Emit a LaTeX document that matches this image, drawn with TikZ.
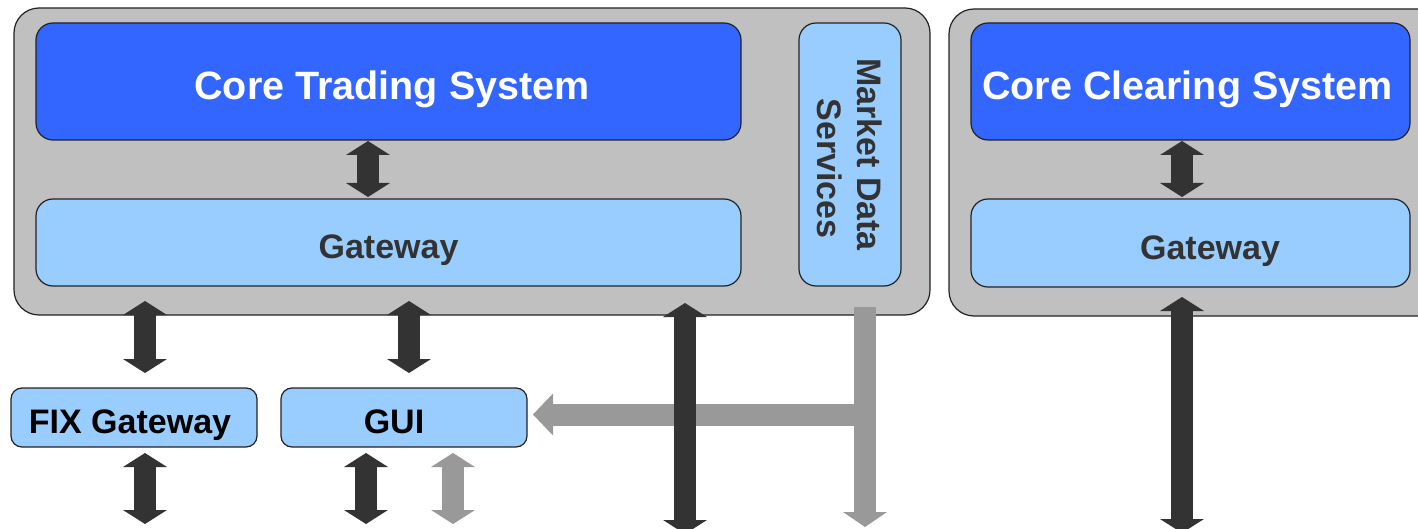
\documentclass[tikz,border=0pt]{standalone}
\usepackage{fontspec}
\setmainfont{Liberation Sans}
\usetikzlibrary{arrows.meta}
\definecolor{panelgray}{HTML}{C0C0C0}
\definecolor{coreblue}{HTML}{3366FF}
\definecolor{gwblue}{HTML}{99CCFF}
\definecolor{darkarrow}{HTML}{333333}
\definecolor{lightarrow}{HTML}{999999}
\definecolor{gwtext}{HTML}{333333}
\definecolor{edge}{HTML}{222222}

\begin{document}
\begin{tikzpicture}[x=1pt,y=-1pt,
  box/.style={draw=edge, line width=1.2pt, inner sep=0pt, outer sep=0pt},
  panel/.style={box, fill=panelgray, rounded corners=25pt},
  corebox/.style={box, fill=coreblue, text=white, rounded corners=17pt,
    font={\fontsize{39.5pt}{45pt}\selectfont\bfseries}, text height=36pt, text depth=0pt},
  gwbox/.style={box, fill=gwblue, text=gwtext, rounded corners=17pt,
    font={\fontsize{34pt}{40pt}\selectfont\bfseries}, text height=32pt, text depth=0pt},
  mdsbox/.style={box, fill=gwblue, text=gwtext, rounded corners=17pt, align=center,
    font={\fontsize{34pt}{40pt}\selectfont\bfseries}},
  clientbox/.style={box, fill=gwblue, text=black, rounded corners=11pt,
    font={\fontsize{34pt}{40pt}\selectfont\bfseries}, text height=32pt, text depth=0pt},
  darrow/.style={draw=darkarrow, line width=22pt, arrows={Triangle[width=44pt,length=14pt,line width=0pt]-Triangle[width=44pt,length=14pt,line width=0pt]}},
  garrow/.style={draw=lightarrow, line width=22pt, arrows={Triangle[width=44pt,length=14pt,line width=0pt]-Triangle[width=44pt,length=14pt,line width=0pt]}},
  gfeed/.style={draw=lightarrow, line width=22pt, arrows={-Triangle[width=44pt,length=15pt,line width=0pt]}},
  gpush/.style={draw=lightarrow, line width=22pt, arrows={-Triangle[width=42pt,length=20pt,line width=0pt]}}
]
\useasboundingbox (0,0) rectangle (1418,529);
\clip (0,0) rectangle (1418,529);

% trading and clearing enclosures
\node[panel, minimum width=916pt, minimum height=307pt] (tradepanel) at (472,161.5) {};
\node[panel, minimum width=511pt, minimum height=307pt] (clearpanel) at (1204.5,162.5) {};

% trading side
\node[corebox, minimum width=705pt, minimum height=117pt] (cts) at (388.5,81.5) {\hspace*{7pt}Core Trading System};
\node[gwbox, minimum width=705pt, minimum height=87pt] (gw1) at (388.5,242.5) {Gateway};
% rotated clockwise: its east anchor is the bottom edge
\node[mdsbox, rotate=-90, minimum width=263pt, minimum height=102pt] (mds) at (850,154.5) {Market Data\\\hspace*{28pt}Services};

% clearing side
\node[corebox, minimum width=439pt, minimum height=117pt] (ccs) at (1190.5,81.5) {Core Clearing System\hspace*{6pt}};
\node[gwbox, minimum width=439pt, minimum height=88pt] (gw2) at (1190.5,243) {\hspace*{39pt}Gateway};

% client-side components
\node[clientbox, minimum width=246pt, minimum height=59pt] (fix) at (134,417.5) {FIX Gateway\hspace*{8pt}};
\node[clientbox, minimum width=246pt, minimum height=59pt] (gui) at (404,417.5) {GUI\hspace*{20pt}};

% free ends of the outgoing links
\coordinate (fixout) at (145,524);
\coordinate (guiout) at (366,524);
\coordinate (guifeed) at (453,524);
\coordinate (tradeout) at (685,534);
\coordinate (clearout) at (1182,533);
\coordinate (mdsout) at (865,527);
\coordinate (mdsjoin) at (865,414.5);

% market data distribution (light)
\draw[gfeed] ([xshift=15pt,yshift=-21pt]mds.east) -- (mdsout);
\draw[gpush] (mdsjoin) -- ([xshift=6pt,yshift=3pt]gui.east);
\draw[garrow] ([xshift=49pt,yshift=-6pt]gui.south) -- (guifeed);

% request / response links (dark)
\draw[darrow] ([xshift=-20.5pt,yshift=-1pt]cts.south) -- ([xshift=-20.5pt,yshift=2pt]gw1.north);
\draw[darrow] ([xshift=-8.5pt,yshift=-1pt]ccs.south) -- ([xshift=-8.5pt,yshift=2pt]gw2.north);
\draw[darrow] ([xshift=-243.5pt,yshift=-15pt]gw1.south) -- ([xshift=11pt,yshift=15pt]fix.north);
\draw[darrow] ([xshift=20.5pt,yshift=-15pt]gw1.south) -- ([xshift=5pt,yshift=15pt]gui.north);
\draw[darrow] ([xshift=11pt,yshift=-6pt]fix.south) -- (fixout);
\draw[darrow] ([xshift=-38pt,yshift=-6pt]gui.south) -- (guiout);
\draw[darrow] ([xshift=296.5pt,yshift=-17pt]gw1.south) -- (tradeout);
\draw[darrow] ([xshift=-8.5pt,yshift=-10pt]gw2.south) -- (clearout);
\end{tikzpicture}
\end{document}
